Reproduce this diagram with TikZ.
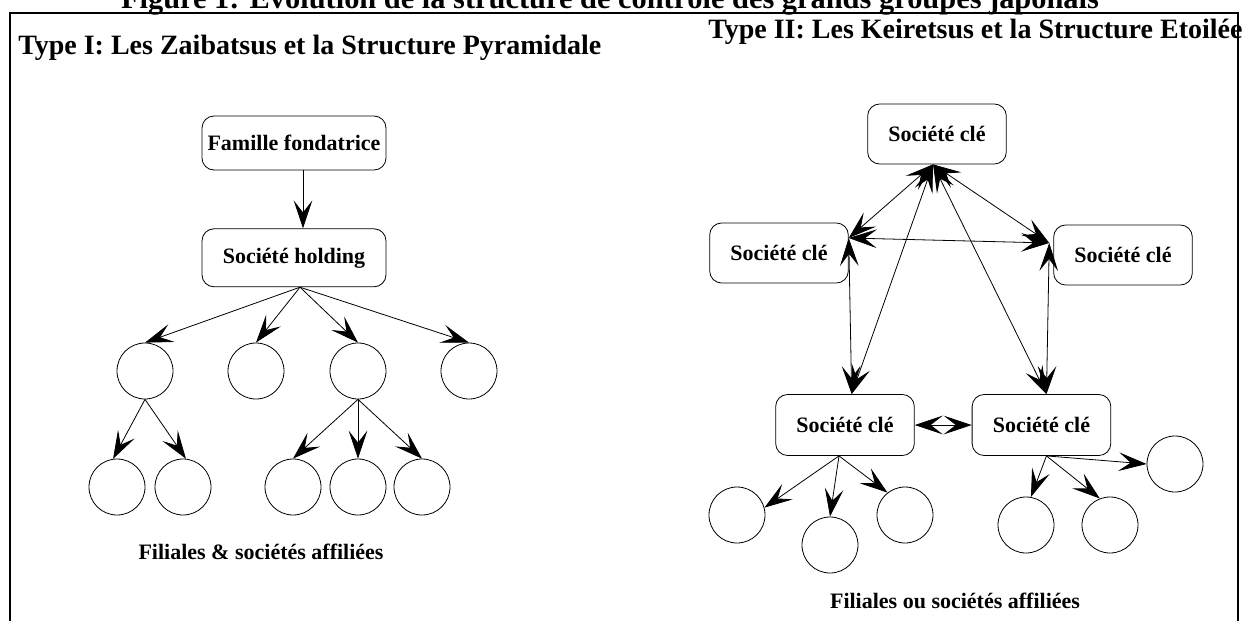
\documentclass[tikz,border=0pt]{standalone}
\usepackage{fontspec}
\setmainfont{Liberation Serif}
\usetikzlibrary{arrows.meta, positioning, calc}
\tikzset{
    box/.style={rectangle, draw=black, line width=0.6pt, rounded corners=9pt, align=center, inner sep=0pt, font=\bfseries\fontsize{16.5}{18}\selectfont},
    holdbox/.style={box, minimum width=138pt},
    keybox/.style={box, minimum width=104pt, minimum height=45pt},
    leaf/.style={circle, draw=black, line width=0.6pt, minimum size=42pt, inner sep=0pt},
    heading/.style={inner sep=0pt, font=\bfseries\fontsize{21}{23}\selectfont},
    caption/.style={inner sep=0pt, font=\bfseries\fontsize{16.5}{18}\selectfont},
    arrow/.style={-{Stealth[length=21pt, width=14pt, inset=9pt]}, line width=0.6pt},
    dblarrow/.style={{Stealth[length=21pt, width=14pt, inset=9pt]}-{Stealth[length=21pt, width=14pt, inset=9pt]}, line width=0.6pt}
}

\begin{document}
\begin{tikzpicture}[x=0.75pt, y=-0.75pt]
    \useasboundingbox (0,0) rectangle (1243,621);
    \draw[line width=1.5pt] (10,640) -- (10,13) -- (1238,13) -- (1238,640);

    \node[heading, anchor=base, font=\bfseries\fontsize{22.8}{24}\selectfont] (title) at (610,8) {Figure 1: Evolution de la structure de contrôle des grands groupes japonais};
    \node[heading, anchor=base west] (typeI) at (18,54) {Type I: Les Zaibatsus et la Structure Pyramidale};
    \node[heading, anchor=base west] (typeII) at (708,38) {Type II: Les Keiretsus et la Structure Etoilée};

    % Type I
    \node[holdbox, minimum height=40.5pt] (fam) at (294,143) {Famille fondatrice};
    \node[holdbox, below=43.5pt of fam, minimum height=43.5pt] (hold) {Société holding};
    \node[leaf] (a1) at (145,371) {};
    \node[leaf] (a2) at (256,371) {};
    \node[leaf] (a3) at (358,371) {};
    \node[leaf] (a4) at (469,371) {};
    \node[leaf] (b1) at (117,487) {};
    \node[leaf] (b2) at (183,487) {};
    \node[leaf] (b3) at (293,487) {};
    \node[leaf] (b4) at (358,487) {};
    \node[leaf] (b5) at (422,487) {};
    \node[caption] (filI) at (261,552) {Filiales \& sociétés affiliées};

    \draw[arrow] ([xshift=6.75pt]fam.south) -- ([xshift=6.75pt]hold.north);
    \draw[arrow] ([xshift=4.5pt]hold.south) -- (a1.north);
    \draw[arrow] ([xshift=4.5pt]hold.south) -- (a2.north);
    \draw[arrow] ([xshift=4.5pt]hold.south) -- (a3.north);
    \draw[arrow] ([xshift=4.5pt]hold.south) -- (a4.north);
    \draw[arrow] (a1.south) -- (b1.98);
    \draw[arrow] (a1.south) -- (b2.84);
    \draw[arrow] (a3.south) -- (b3.north);
    \draw[arrow] (a3.south) -- (b4.north);
    \draw[arrow] (a3.south) -- (b5.north);

    % Type II
    \node[keybox] (k1) at (937,134) {Société clé};
    \node[keybox] (k2) at (779,253) {Société clé};
    \node[keybox] (k3) at (1123,255) {Société clé};
    \node[keybox, minimum height=45.75pt] (k4) at (845,425) {Société clé};
    \node[keybox, minimum height=45.75pt, right=42.75pt of k4] (k5) {Société clé};
    \node[leaf] (c1) at (737,515) {};
    \node[leaf] (c2) at (830,545) {};
    \node[leaf] (c3) at (905,515) {};
    \node[leaf] (c4) at (1026,525) {};
    \node[leaf] (c5) at (1110,525) {};
    \node[leaf] (c6) at (1175,464) {};
    \node[caption] (filII) at (955,601) {Filiales ou sociétés affiliées};

    \draw[dblarrow] ([xshift=-3pt]k1.south) -- ([yshift=11.25pt]k2.east);
    \draw[dblarrow] ([xshift=-3pt]k1.south) -- ([xshift=-3pt, yshift=9pt]k3.west);
    \draw[dblarrow] ([yshift=11.25pt]k2.east) -- ([xshift=-3pt, yshift=9pt]k3.west);
    \draw[dblarrow] ([xshift=-3pt]k1.south) -- ([xshift=5pt]k4.north);
    \draw[dblarrow] ([xshift=-3pt]k1.south) -- ([xshift=3.75pt]k5.north);
    \draw[dblarrow] ([yshift=11.25pt]k2.east) -- ([xshift=5pt]k4.north);
    \draw[dblarrow] ([xshift=-3pt, yshift=9pt]k3.west) -- ([xshift=3.75pt]k5.north);
    \draw[dblarrow] (k4.east) -- (k5.west);

    \draw[arrow] ([xshift=-4.5pt]k4.south) -- (c1.15);
    \draw[arrow] ([xshift=-4.5pt]k4.south) -- (c2.north);
    \draw[arrow] ([xshift=-4.5pt]k4.south) -- (c3.128);
    \draw[arrow] ([xshift=3.75pt]k5.south) -- (c4.80);
    \draw[arrow] ([xshift=3.75pt]k5.south) -- (c5.111);
    \draw[arrow] ([xshift=3.75pt]k5.south) -- (c6.west);
\end{tikzpicture}
\end{document}
